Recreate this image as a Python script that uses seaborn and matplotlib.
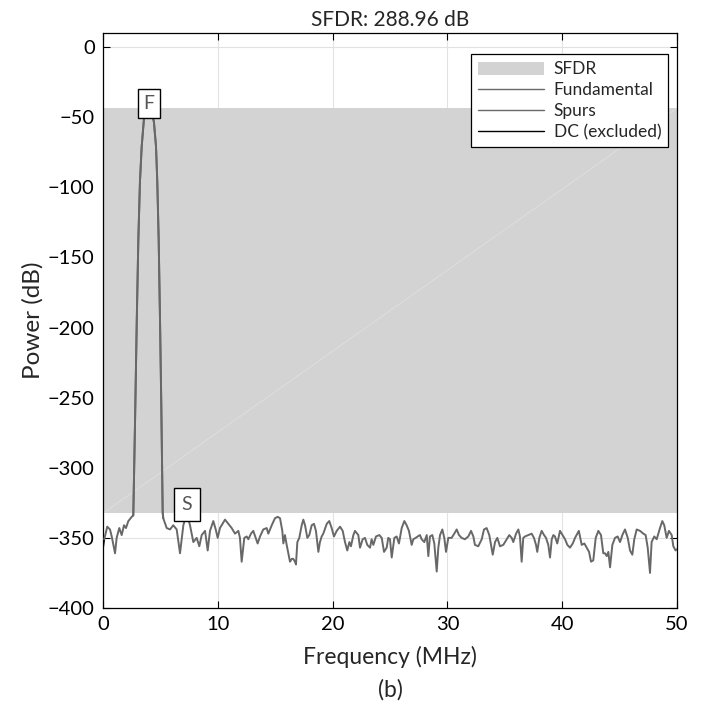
import numpy as np
import pandas as pd
import matplotlib
matplotlib.use("Agg")
import matplotlib.pyplot as plt
from matplotlib.patches import Patch
from matplotlib.lines import Line2D
import seaborn as sns

# values (MHz, dB)
dc_freq = [0.0, 0.08]
dc_power = [-357, -352]

low_freq = [0.08, 0.37, 0.61, 0.76, 1.05, 1.19, 1.42, 1.63, 1.83, 2.00, 2.21, 2.50, 2.64]
low_power = [-352, -342, -344, -349, -361, -350, -343, -348, -341, -343, -338, -335, -334]

fund_freq = [2.64, 2.79, 2.94, 3.08, 3.22, 3.37, 3.57, 3.81, 4.01, 4.24, 4.44, 4.62,
             4.73, 4.85, 4.97, 5.08, 5.20, 5.25]
fund_power = [-334, -268, -196, -137, -96, -71, -51, -44.3, -43.5, -45.7, -53.6, -71,
              -96, -137, -196, -256, -332, -336]

high_freq = [5.25, 5.55, 5.84, 6.12, 6.42, 6.71, 7.00, 7.29, 7.58, 7.87, 8.16, 8.39,
             8.60, 8.89, 9.12, 9.32, 9.61, 9.82, 9.99, 10.19, 10.63, 10.92, 11.21, 11.50,
             11.79, 11.93, 12.08, 12.31, 12.52, 12.66, 12.89, 13.09, 13.30, 13.47, 13.68,
             13.96, 14.26, 14.40, 14.70, 14.98, 15.22, 15.42, 15.62, 15.71, 15.85, 16.00,
             16.29, 16.44, 16.58, 16.72, 16.81, 16.93, 17.10, 17.31, 17.45, 17.60, 17.80,
             17.97, 18.18, 18.38, 18.55, 18.76, 18.90, 19.05, 19.19, 19.49, 19.71, 19.92,
             20.12, 20.36, 20.65, 20.88, 21.08, 21.28, 21.46, 21.60, 21.81, 21.95, 22.24,
             22.39, 22.62, 22.82, 23.02, 23.26, 23.40, 23.55, 23.78, 24.07, 24.28, 24.48,
             24.71, 24.85, 25.00, 25.15, 25.38, 25.58, 25.78, 26.02, 26.25, 26.45, 26.65,
             26.89, 27.03, 27.24, 27.41, 27.61, 27.76, 27.99, 28.20, 28.34, 28.48, 28.69,
             28.86, 29.07, 29.21, 29.36, 29.56, 29.73, 29.88, 30.08, 30.37, 30.60, 30.81,
             31.01, 31.24, 31.53, 31.82, 32.06, 32.26, 32.40, 32.69, 32.99, 33.19, 33.42,
             33.65, 33.95, 34.15, 34.35, 34.58, 34.87, 35.17, 35.39, 35.60, 35.74, 35.98,
             36.18, 36.32, 36.47, 36.61, 36.76, 37.05, 37.34, 37.54, 37.72, 37.83, 38.01,
             38.21, 38.42, 38.59, 38.79, 38.94, 39.09, 39.23, 39.37, 39.57, 39.81, 39.96,
             40.25, 40.45, 40.68, 40.92, 41.12, 41.45, 41.70, 41.93, 42.13, 42.34, 42.51,
             42.71, 42.92, 43.15, 43.38, 43.58, 43.73, 43.88, 44.02, 44.17, 44.37, 44.60,
             44.83, 45.04, 45.24, 45.47, 45.71, 45.91, 46.11, 46.28, 46.49, 46.78, 47.07,
             47.27, 47.45, 47.65, 47.79, 48.02, 48.23, 48.52, 48.72, 48.89, 49.10, 49.30,
             49.54, 49.68, 49.88, 50.0]
high_power = [-336, -343, -344, -341, -344, -361, -341, -332.46, -341, -353, -350, -356,
              -348, -345, -359, -345, -338, -344, -350, -343, -337, -340, -343, -347,
              -345, -350, -367, -350, -349, -351, -347, -345, -350, -354, -349,
              -344, -343, -347, -341, -336, -335, -336, -345, -354, -348, -355,
              -367, -365, -365, -367, -369, -353, -350, -341, -337, -341, -350,
              -348, -341, -340, -345, -360, -353, -349, -347, -340, -338, -343,
              -349, -345, -342, -345, -353, -359, -353, -356, -348, -345, -348,
              -357, -351, -350, -355, -357, -351, -355, -349, -348, -350, -360,
              -357, -350, -351, -364, -350, -349, -354, -343, -338, -341, -345,
              -355, -351, -350, -349, -348, -351, -353, -348, -363, -349, -348,
              -354, -374, -357, -348, -344, -350, -360, -350, -350, -347, -344,
              -348, -350, -351, -349, -345, -349, -355, -356, -351, -344, -343,
              -348, -362, -353, -350, -356, -355, -351, -348, -350, -353, -347,
              -344, -349, -367, -350, -349, -348, -347, -350, -355, -360, -350,
              -345, -348, -350, -355, -364, -351, -348, -349, -354, -345, -347,
              -351, -355, -357, -354, -350, -345, -355, -354, -357, -360, -367,
              -366, -350, -345, -348, -361, -361, -363, -360, -371, -355, -350,
              -349, -353, -348, -344, -350, -359, -362, -351, -344, -345, -347,
              -348, -357, -375, -353, -349, -351, -343, -338, -341, -350, -345,
              -348, -356, -359, -358]

fund_peak = (4.01, -43.5)
spur_peak = (7.29, -332.46)
sfdr_db = fund_peak[1] - spur_peak[1]

sns.set_style("ticks")
plt.rcParams['font.family'] = ['Lato', 'DejaVu Sans']

spec = pd.DataFrame({
    'freq': low_freq + fund_freq + high_freq,
    'power': low_power + fund_power + high_power,
})
fund = pd.DataFrame({'freq': fund_freq, 'power': fund_power})
dc = pd.DataFrame({'freq': dc_freq, 'power': dc_power})

fig = plt.figure(figsize=(7.03, 7.04), dpi=100)
ax = fig.add_axes([0.1465, 0.1364, 0.8165, 0.8166])

band_col = '#d3d3d3'
line_col = '#686868'

# SFDR band
ax.fill_between([0, 50], spur_peak[1], fund_peak[1], color=band_col, lw=0, zorder=1)
ax.plot([0, 50], [spur_peak[1], fund_peak[1]], color='white', lw=0.5, alpha=0.35, zorder=1.5)

sns.lineplot(data=spec, x='freq', y='power', color=line_col, lw=1.4, sort=False,
             estimator=None, ax=ax, zorder=3)
sns.lineplot(data=fund, x='freq', y='power', color=line_col, lw=1.4, sort=False,
             estimator=None, ax=ax, zorder=3)
sns.lineplot(data=dc, x='freq', y='power', color='black', lw=1.4, sort=False,
             estimator=None, ax=ax, zorder=3)

box = dict(boxstyle='square,pad=0.3', fc='white', ec='black', lw=1)
ax.annotate('F', xy=fund_peak, xytext=(0, -3), textcoords='offset points',
            ha='center', va='bottom', fontsize=14, color='#555555', bbox=box, zorder=5)
ax.annotate('S', xy=spur_peak, xytext=(0, 0), textcoords='offset points',
            ha='center', va='bottom', fontsize=14, color='#555555',
            bbox=dict(boxstyle='square,pad=0.4', fc='white', ec='black', lw=1), zorder=5)

ax.set_xlim(0, 50)
ax.set_ylim(-400, 10)
ax.set_xticks(np.arange(0, 51, 10))
ax.set_yticks(np.arange(-400, 1, 50))
ax.grid(True, color='#e2e2e2', lw=0.8, zorder=0)
ax.set_axisbelow(True)
ax.tick_params(direction='in', top=True, right=True, length=5, width=0.8,
               labelsize=14.5, colors='black', pad=6)
for s in ax.spines.values():
    s.set_color('black')
    s.set_linewidth(0.9)

ax.set_title(f'SFDR: {sfdr_db:.2f} dB', fontsize=15, pad=5)
ax.set_xlabel('Frequency (MHz)', fontsize=16.5, labelpad=9)
ax.set_ylabel('Power (dB)', fontsize=17.5, labelpad=3)
fig.text(0.5 * (0.1465 + 0.963), 0.005, '(b)', ha='center', va='bottom', fontsize=16.5)

handles = [
    Patch(facecolor=band_col, edgecolor='none'),
    Line2D([], [], color=line_col, lw=1),
    Line2D([], [], color=line_col, lw=1),
    Line2D([], [], color='black', lw=1),
]
leg = ax.legend(handles, ['SFDR', 'Fundamental', 'Spurs', 'DC (excluded)'],
                loc='upper right', bbox_to_anchor=(1.0, 0.978), fontsize=12.5,
                frameon=True, fancybox=False, framealpha=1, edgecolor='black',
                handlelength=3.8, handleheight=0.8, labelspacing=0.28,
                borderpad=0.4, handletextpad=0.55)
leg.get_frame().set_linewidth(0.9)
leg.set_zorder(6)

fig.savefig('out.png', dpi=100)
